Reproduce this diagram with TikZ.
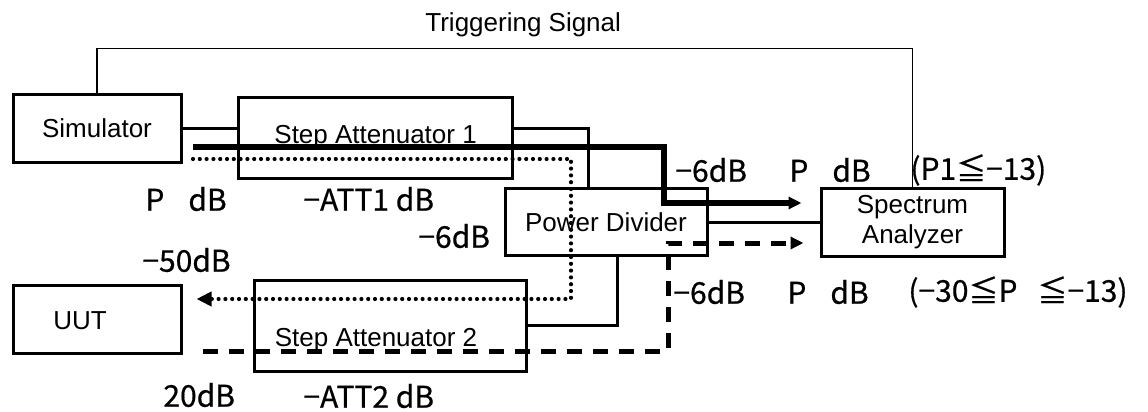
\documentclass[tikz,border=0pt]{standalone}
\usepackage{fontspec}
\setmainfont{Liberation Sans}
\newfontfamily\jpfont[FakeBold=0.6]{Noto Sans CJK JP}
\usetikzlibrary{
  arrows.meta,
  positioning,
  calc
}
\tikzset{
  unitbox/.style={
    draw,
    line width=1.5pt,
    inner sep=0pt,
    align=center,
    font=\fontsize{13pt}{15pt}\selectfont,
  },
  boxtext/.style={
    font=\fontsize{13pt}{15pt}\selectfont,
    inner sep=0pt,
  },
  level/.style={
    font=\jpfont\fontsize{15pt}{17pt}\selectfont,
    inner sep=0pt,
    anchor=west,
  },
  link/.style={
    line width=1.5pt,
  },
  trig/.style={
    line width=0.9pt,
  },
  sigsolid/.style={
    -{Triangle[length=6.5pt, width=6pt]},
    line width=2.6pt,
  },
  sigdot/.style={
    -{Triangle[length=7.5pt, width=7pt]},
    line width=2.1pt,
    line cap=round,
    dash pattern=on 0pt off 3.4pt,
  },
  sigdash/.style={
    -{Triangle[length=6.5pt, width=6pt]},
    line width=2.5pt,
    dash pattern=on 7.5pt off 5.5pt,
  },
}

\begin{document}
\begin{tikzpicture}[x=0.5pt, y=-0.5pt]

\useasboundingbox (0,0) rectangle (1148,412);

% === Units ===

\node[unitbox, minimum width=84pt, minimum height=34pt]
  (sim) at (97,128) {Simulator};

\node[unitbox, minimum width=137pt, minimum height=40.5pt, right=27.3pt of sim, yshift=-4.75pt]
  (att1) {Step Attenuator 1};

\node[unitbox, minimum width=91.5pt, minimum height=34pt]
  (spec) at (912.5,222) {Spectrum\\Analyzer};

\node[unitbox, minimum width=101pt, minimum height=33.5pt, left=55.5pt of spec]
  (div) {Power Divider};

\node[unitbox, minimum width=84pt, minimum height=34pt, below=60pt of sim,
  label={[boxtext, xshift=-8.5pt, yshift=-1pt]center:UUT}]
  (uut) {};

\node[unitbox, minimum width=136pt, minimum height=45.5pt, right=35pt of uut, yshift=-3.25pt,
  label={[boxtext, xshift=-7pt, yshift=-7.5pt]center:Step Attenuator 2}]
  (att2) {};

% === Connections ===

\draw[trig] (sim.north) -- ++(0,-44) -| (spec.north);
\node[boxtext, anchor=west] (trigtext) at (425,25) {Triggering Signal};

\draw[link] (sim.east) -- (sim.east -| att1.west);
\draw[link] (att1.east |- sim.east) -| ($(div.north)+(-18,0)$);
\draw[link] (div.east) -- (spec.west);
\draw[link] ($(div.south)+(11,0)$) |- (att2.east);

% === Signal paths ===

\coordinate (solidin) at (193,147);
\coordinate (dotin) at (193,159);
\coordinate (dashin) at (203,351);

\draw[sigsolid] (solidin) -- ++(471,0) |- ($(spec.west)+(-18,-19)$);
\draw[sigdot] (dotin) -- ++(378,0) |- ($(uut.east)+(14,-20)$);
\draw[sigdash] (dashin) -- ++(465,0) |- ($(spec.west)+(-16,21)$);

% === Levels ===

\node[level] (simlvl) at (145,199) {P\hspace{12pt}dB};
\node[level] (att1lvl) at (303,199) {−ATT1 dB};
\node[level] (divlvl) at (418,236) {−6dB};
\node[level] (uutlvl) at (142,260) {−50dB};
\node[level] (retlvl) at (163,395) {20dB};
\node[level] (att2lvl) at (303,396) {−ATT2 dB};

\node[level] (outlvl) at (675,170) {−6dB};
\node[level] (outp) at (789,170) {P\hspace{12pt}dB};
\node[level] (outcond) at (910,170) {(P1≦−13)};

\node[level] (inlvl) at (673,292) {−6dB};
\node[level] (inp) at (787,292) {P\hspace{12pt}dB};
\node[level] (incond) at (908,292) {(−30≦P\hspace{10pt}≦−13)};

\end{tikzpicture}
\end{document}
